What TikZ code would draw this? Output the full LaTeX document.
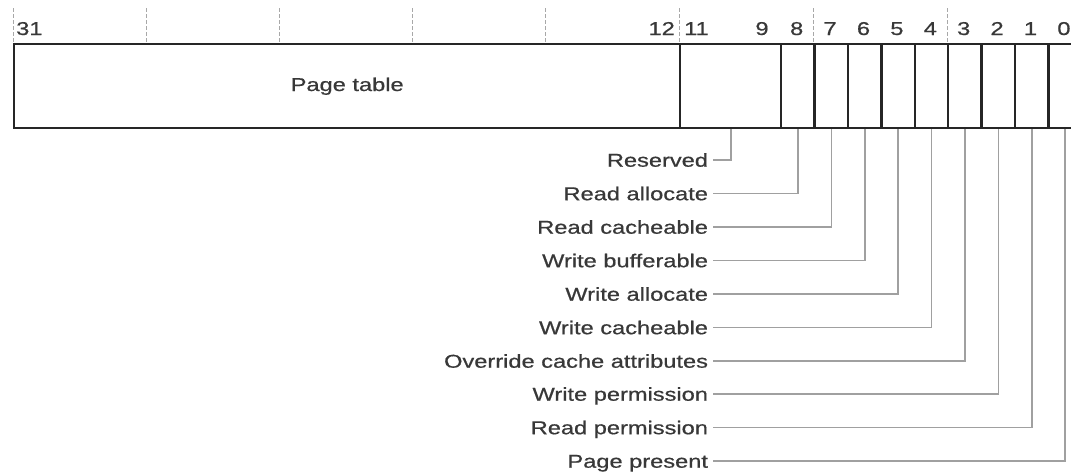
\documentclass[tikz,border=0pt]{standalone}
\usepackage{fontspec}
\setmainfont[FakeBold=0.6]{Liberation Sans}
\definecolor{boxc}{HTML}{262626}
\definecolor{txtc}{HTML}{383838}
\definecolor{leadc}{HTML}{A0A0A0}
\definecolor{tickc}{HTML}{A8A8A8}
\newcommand\widetext[1]{\scalebox{1.27}[1]{#1}}
\begin{document}
\begin{tikzpicture}[x=1pt,y=-1pt,
  cell/.style={draw=boxc, line width=2.4pt, minimum height=84pt, inner sep=0pt, anchor=north west, text=txtc, font=\fontsize{18.6}{20}\selectfont},
  lbl/.style={anchor=east, inner sep=0pt, outer xsep=5pt, text height=13.4pt, text depth=0pt, text=txtc, font=\fontsize{18.6}{20}\selectfont},
  bitnum/.style={inner sep=0pt, text=txtc, font=\fontsize{18.6}{20}\selectfont},
  lead/.style={draw=leadc, line width=1.6pt},
  tick/.style={draw=tickc, line width=1pt, dash pattern=on 4pt off 2pt}]
\useasboundingbox (0,0) rectangle (1071,472);
\clip (0,0) rectangle (1071,472);
% ruler ticks
\foreach \x in {13,146.2,279.4,412.6,545.8,679,813.4,947}
  \draw[tick] (\x,8) -- (\x,43);
% cells
\node[cell, minimum width=666pt] (cpt) at (13,43) {\widetext{Page table}};
\node[cell, minimum width=101pt] (cres) at (679,43) {};
\foreach \i in {8,...,0}
  \node[cell, minimum width=33.4pt] (c\i) at ({780+(8-\i)*33.4},43) {};
% bit numbers
\node[bitnum, anchor=base west] (n31) at (16,35) {\widetext{31}};
\node[bitnum, anchor=base east] (n12) at (675,35) {\widetext{12}};
\node[bitnum, anchor=base west] (n11) at (684,35) {\widetext{11}};
\node[bitnum, anchor=base] (n9) at (762,35) {\widetext{9}};
\foreach \i in {8,...,0}
  \node[bitnum, anchor=base] (n\i) at ({796.7+(8-\i)*33.4},35) {\widetext{\i}};
% labels
\node[lbl] (lres) at (713,160) {\widetext{Reserved}};
\node[lbl] (l8) at (713,193.5) {\widetext{Read allocate}};
\node[lbl] (l7) at (713,227) {\widetext{Read cacheable}};
\node[lbl] (l6) at (713,260.5) {\widetext{Write bufferable}};
\node[lbl] (l5) at (713,294) {\widetext{Write allocate}};
\node[lbl] (l4) at (713,327.5) {\widetext{Write cacheable}};
\node[lbl] (l3) at (713,361) {\widetext{Override cache attributes}};
\node[lbl] (l2) at (713,394) {\widetext{Write permission}};
\node[lbl] (l1) at (713,427.5) {\widetext{Read permission}};
\node[lbl] (l0) at (713,461) {\widetext{Page present}};
% leaders
\draw[lead] (lres.east) -| (cres.south);
\foreach \i in {8,...,0}
  \draw[lead] (l\i.east) -| (c\i.south);
\end{tikzpicture}
\end{document}
